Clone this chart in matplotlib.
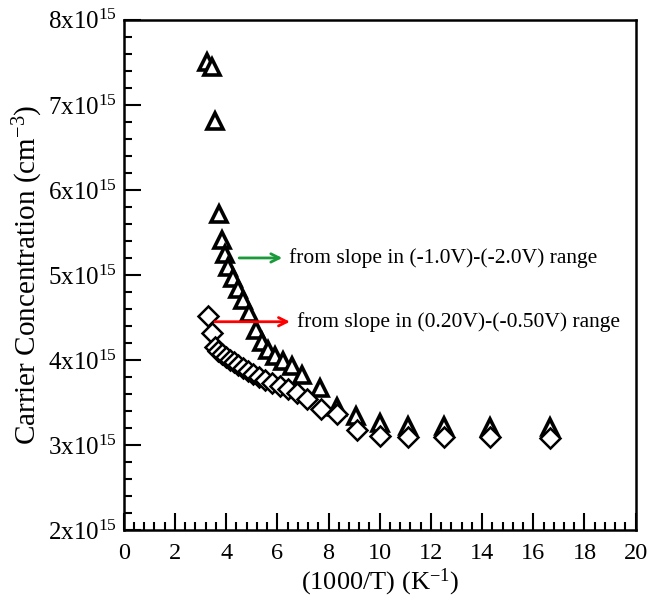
import numpy as np
import matplotlib
matplotlib.use('Agg')
import matplotlib.pyplot as plt
from matplotlib.ticker import MultipleLocator, FuncFormatter

plt.rcParams['font.family'] = ['Liberation Serif', 'DejaVu Serif']
plt.rcParams['mathtext.fontset'] = 'custom'
plt.rcParams['mathtext.rm'] = 'Liberation Serif'
plt.rcParams['mathtext.it'] = 'Liberation Serif:italic'

# triangles: from slope in (-1.0V)-(-2.0V) range
tri_x = [3.24, 3.44, 3.55, 3.71, 3.83, 3.95, 4.06, 4.26, 4.45, 4.65, 4.88, 5.16, 5.39,
         5.63, 5.90, 6.21, 6.56, 6.95, 7.66, 8.32, 9.06, 10.0, 11.09, 12.5, 14.3, 16.64]
tri_y = [7.51, 7.45, 6.81, 5.72, 5.41, 5.25, 5.09, 4.96, 4.84, 4.71, 4.55, 4.35, 4.21,
         4.12, 4.05, 3.99, 3.93, 3.82, 3.67, 3.45, 3.34, 3.26, 3.22, 3.22, 3.21, 3.21]

# diamonds: from slope in (0.20V)-(-0.50V) range
dia_x = [3.28, 3.44, 3.55, 3.67, 3.83, 3.98, 4.14, 4.30, 4.45, 4.65, 4.84, 5.04, 5.27,
         5.51, 5.78, 6.09, 6.41, 6.76, 7.15, 7.70, 8.32, 9.10, 10.0, 11.09, 12.5, 14.3, 16.64]
dia_y = [4.52, 4.32, 4.15, 4.11, 4.07, 4.04, 4.00, 3.98, 3.94, 3.91, 3.87, 3.84, 3.80,
         3.76, 3.73, 3.69, 3.66, 3.61, 3.54, 3.42, 3.36, 3.18, 3.11, 3.10, 3.09, 3.09, 3.08]

y_ticks = [2, 3, 4, 5, 6, 7, 8]

fig = plt.figure(figsize=(6.48, 6.01), dpi=100)
ax = fig.add_axes([0.191, 0.118, 0.79, 0.849])

ax.plot(tri_x, tri_y, linestyle='none', marker='^', ms=11, mfc='white',
        mec='black', mew=2.6)
ax.plot(dia_x, dia_y, linestyle='none', marker='D', ms=10, mfc='white',
        mec='black', mew=1.8)

ax.set_xlim(0, 20)
ax.set_ylim(2, 8)
ax.xaxis.set_major_locator(MultipleLocator(2))
ax.xaxis.set_minor_locator(MultipleLocator(0.4))
ax.set_yticks(y_ticks)
ax.yaxis.set_minor_locator(MultipleLocator(0.2))
ax.yaxis.set_major_formatter(FuncFormatter(lambda v, p: r'%dx10$^{15}$' % round(v)))

ax.tick_params(which='both', direction='in', top=False, right=False, width=1.5)
ax.tick_params(axis='x', pad=9, labelsize=17.5)
ax.tick_params(axis='y', pad=5, labelsize=18)
ax.tick_params(which='major', length=12)
ax.tick_params(which='minor', length=6)
for s in ax.spines.values():
    s.set_linewidth(1.8)

ax.set_xlabel(r'(1000/T) (K$^{\mathrm{-1}}$)', fontsize=19, labelpad=2)
ax.set_ylabel(r'Carrier Concentration (cm$^{\mathrm{-3}}$)', fontsize=21, labelpad=2)

ax.annotate('', xy=(6.3, 5.2), xytext=(4.4, 5.2),
            arrowprops=dict(arrowstyle='->', color='#1a9a3a', lw=2, mutation_scale=15))
ax.text(6.45, 5.2, 'from slope in (-1.0V)-(-2.0V) range', fontsize=15.5, va='center')
ax.annotate('', xy=(6.6, 4.45), xytext=(3.45, 4.45),
            arrowprops=dict(arrowstyle='->', color='red', lw=2, mutation_scale=15))
ax.text(6.78, 4.45, 'from slope in (0.20V)-(-0.50V) range', fontsize=15.5, va='center')

fig.savefig('out.png', dpi=100)
